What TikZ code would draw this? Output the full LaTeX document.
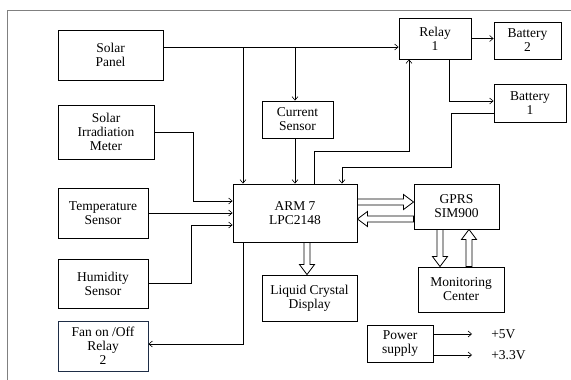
\documentclass[tikz,border=0pt]{standalone}
\usepackage{fontspec}
\setmainfont{Liberation Serif}
\usepackage{tikz}
\usetikzlibrary{arrows.meta, calc}

\begin{document}
\begin{tikzpicture}[x=1pt, y=-1pt, >={Straight Barb[length=3.5pt,width=6pt]},
  font=\fontsize{13.5}{14}\selectfont, line width=0.6pt,
  blk/.style={draw, line width=0.9pt, align=center, inner sep=1pt},
  hollow/.style={line width=0.8pt, to path={let \p1=(\tikztostart), \p2=(\tikztotarget),
    \n1={atan2(\y2-\y1,\x2-\x1)}, \n2={veclen(\x2-\x1,\y2-\y1)} in
    [shift={(\p1)}, rotate=\n1] (0pt,-3pt) -- (\n2-10pt,-3pt) -- (\n2-10pt,-7.5pt) -- (\n2,0pt)
    -- (\n2-10pt,7.5pt) -- (\n2-10pt,3pt) -- (0pt,3pt) -- cycle}}]
\useasboundingbox (0,0) rectangle (571,380);
\draw[gray, line width=0.8pt] (7,380) -- (7,10) -- (571,10);
% blocks
\node[blk, minimum width=105pt, minimum height=50pt] (sp) at (110.5,55) {Solar\\Panel};
\node[blk, minimum width=96pt, minimum height=54pt] (sim) at (106,132) {Solar\\Irradiation\\Meter};
\node[blk, minimum width=90pt, minimum height=50pt] (temp) at (103,213) {Temperature\\Sensor};
\node[blk, minimum width=90pt, minimum height=49pt] (hum) at (103,283.5) {Humidity\\Sensor};
\node[blk, draw={rgb,255:red,30;green,45;blue,70}, minimum width=90pt, minimum height=50pt] (fan) at (103,346) {Fan on /Off\\Relay\\2};
\node[blk, minimum width=124pt, minimum height=58pt] (arm) at (295,213) {ARM 7\\LPC2148};
\node[blk, minimum width=71pt, minimum height=37pt] (cs) at (297.5,119.5) {Current\\Sensor};
\node[blk, minimum width=72pt, minimum height=41pt] (r1) at (435,38.5) {Relay\\1};
\node[blk, minimum width=67pt, minimum height=37pt] (b2) at (527.5,40.5) {Battery\\2};
\node[blk, minimum width=72pt, minimum height=38pt] (b1) at (530,103) {Battery\\1};
\node[blk, minimum width=85pt, minimum height=45pt] (gprs) at (456.5,206.5) {GPRS\\SIM900};
\node[blk, minimum width=86pt, minimum height=45pt] (mc) at (461,289.5) {Monitoring\\Center};
\node[blk, minimum width=95pt, minimum height=46pt] (lcd) at (309.5,298) {Liquid Crystal\\Display};
\node[blk, minimum width=66pt, minimum height=37pt] (ps) at (400,343.5) {Power\\supply};
\node[anchor=west, inner sep=0pt] (v5) at (491,334) {+5V};
\node[anchor=west, inner sep=0pt] (v33) at (491,355) {+3.3V};
% bend points
\coordinate (j1) at (243,47);
\coordinate (j2) at (295,47);
\coordinate (k1) at (314,151);
\coordinate (k2) at (409,151);
\coordinate (m1) at (451,113);
\coordinate (m2) at (451,167);
\coordinate (m3) at (342,167);
\coordinate (n1) at (449,101);
\coordinate (p1) at (193,201);
\coordinate (q1) at (191,225);
\coordinate (f1) at (243,344);
\coordinate (g1) at (0,202);
\coordinate (g2) at (0,219);
\coordinate (d1) at (307,0);
\coordinate (d2) at (440,0);
\coordinate (d3) at (469,0);
\coordinate (e1) at (472,334);
\coordinate (e2) at (472,355);
% connectors
\draw[->] (sp.east |- j1) -- (r1.west |- j1);
\draw[->] (j1) -- (j1 |- arm.north);
\draw[->] (j2) -- (j2 |- cs.north);
\draw[->] (cs.south -| j2) -- (j2 |- arm.north);
\draw[->] (k1 |- arm.north) -- (k1) -- (k2) -- (k2 |- r1.south);
\draw[->] (b1.west |- m1) -- (m1) -- (m2) -- (m3) -- (m3 |- arm.north);
\draw[->] (r1.south -| n1) -- (n1) -- (n1 -| b1.west);
\draw[->] (r1.east) -- (r1.east -| b2.west);
\draw[->] (sim.east) -- (p1 |- sim.east) -- (p1) -- (p1 -| arm.west);
\draw[->] (temp.east) -- (temp.east -| arm.west);
\draw[->] (hum.east) -- (q1 |- hum.east) -- (q1) -- (q1 -| arm.west);
\draw[->] (f1 |- arm.south) -- (f1) -- (f1 -| fan.east);
\draw[->] (ps.east |- e1) -- (e1);
\draw[->] (ps.east |- e2) -- (e2);
% data links
\draw[hollow] (arm.east |- g1) to (gprs.west |- g1);
\draw[hollow] (gprs.west |- g2) to (arm.east |- g2);
\draw[hollow] (d1 |- arm.south) to (d1 |- lcd.north);
\draw[hollow] (d2 |- gprs.south) to (d2 |- mc.north);
\draw[hollow] (d3 |- mc.north) to (d3 |- gprs.south);
\end{tikzpicture}
\end{document}
